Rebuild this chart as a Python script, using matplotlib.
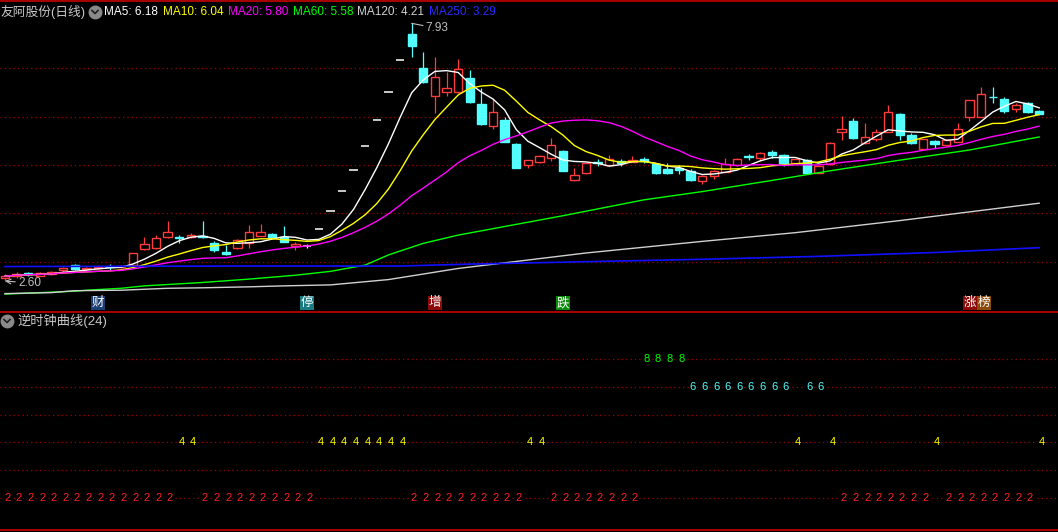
import numpy as np
import pandas as pd
import matplotlib
matplotlib.use('Agg')
import matplotlib.pyplot as plt

plt.rcParams['font.family'] = ['Liberation Sans', 'Noto Sans CJK SC', 'DejaVu Sans']

# daily candles, index 0..89
opens = [2.66, 2.70, 2.76, 2.71, 2.74, 2.82, 2.93, 2.84, 2.87, 2.90,
         2.89, 2.93, 3.26, 3.28, 3.52, 3.51, 3.51, 3.53, 3.39, 3.21,
         3.28, 3.38, 3.54, 3.58, 3.52, 3.33, 3.33, 3.68, 4.05, 4.46,
         4.90, 5.39, 5.93, 6.52, 7.17, 7.71, 7.00, 6.43, 6.50, 6.50,
         6.79, 6.26, 5.81, 5.93, 5.43, 4.99, 5.07, 5.15, 5.29, 4.70,
         4.83, 5.07, 4.99, 5.09, 5.07, 5.12, 5.02, 4.92, 4.93, 4.88,
         4.66, 4.77, 4.86, 5.00, 5.18, 5.14, 5.27, 5.21, 5.05, 5.10,
         4.84, 5.02, 5.69, 5.91, 5.45, 5.53, 5.69, 6.06, 5.62, 5.33,
         5.50, 5.41, 5.48, 5.99, 6.00, 6.41, 6.36, 6.15, 6.28, 6.12]
highs = [2.74, 2.78, 2.79, 2.78, 2.81, 2.90, 2.96, 2.90, 2.93, 2.96,
         2.94, 3.19, 3.52, 3.55, 3.84, 3.56, 3.59, 3.85, 3.42, 3.35,
         3.46, 3.76, 3.78, 3.60, 3.74, 3.41, 3.37, 3.68, 4.05, 4.46,
         4.90, 5.39, 5.93, 6.52, 7.17, 7.93, 7.33, 7.24, 6.93, 7.19,
         6.97, 6.60, 6.36, 5.99, 5.46, 5.11, 5.21, 5.55, 5.30, 4.93,
         5.05, 5.13, 5.21, 5.13, 5.19, 5.16, 5.03, 5.05, 4.99, 4.92,
         4.79, 4.90, 5.15, 5.14, 5.23, 5.26, 5.31, 5.22, 5.13, 5.12,
         4.99, 5.48, 6.01, 5.97, 5.86, 5.75, 6.24, 6.07, 5.66, 5.54,
         5.51, 5.53, 5.86, 6.35, 6.61, 6.61, 6.41, 6.29, 6.30, 6.13]
lows = [2.60, 2.66, 2.71, 2.70, 2.72, 2.79, 2.82, 2.82, 2.85, 2.82,
        2.87, 2.90, 3.25, 3.27, 3.50, 3.38, 3.50, 3.49, 3.21, 3.14,
        3.26, 3.28, 3.53, 3.50, 3.40, 3.25, 3.28, 3.68, 4.05, 4.46,
        4.90, 5.39, 5.93, 6.52, 7.17, 7.23, 6.70, 6.07, 6.43, 6.48,
        6.28, 5.82, 5.74, 5.47, 4.94, 4.94, 5.04, 5.09, 4.87, 4.66,
        4.82, 4.97, 4.98, 4.97, 5.06, 5.05, 4.82, 4.82, 4.82, 4.66,
        4.61, 4.72, 4.85, 4.98, 5.10, 5.09, 5.14, 4.98, 5.04, 4.83,
        4.83, 5.01, 5.52, 5.54, 5.44, 5.50, 5.68, 5.52, 5.44, 5.32,
        5.35, 5.39, 5.47, 5.90, 5.99, 6.28, 6.07, 6.10, 6.08, 6.05]
closes = [2.70, 2.74, 2.75, 2.76, 2.79, 2.86, 2.85, 2.87, 2.89, 2.89,
          2.92, 3.19, 3.37, 3.50, 3.61, 3.50, 3.55, 3.51, 3.24, 3.15,
          3.45, 3.61, 3.61, 3.52, 3.41, 3.37, 3.33, 3.68, 4.05, 4.46,
          4.90, 5.39, 5.93, 6.52, 7.17, 7.46, 6.72, 6.81, 6.60, 6.98,
          6.30, 5.85, 6.09, 5.48, 4.94, 5.10, 5.19, 5.41, 4.88, 4.79,
          5.05, 5.04, 5.12, 5.04, 5.10, 5.08, 4.83, 4.84, 4.90, 4.68,
          4.77, 4.88, 5.02, 5.12, 5.17, 5.24, 5.21, 5.04, 5.12, 4.84,
          4.98, 5.45, 5.74, 5.55, 5.57, 5.68, 6.10, 5.62, 5.45, 5.53,
          5.43, 5.52, 5.74, 6.34, 6.47, 6.40, 6.12, 6.24, 6.09, 6.06]

# long moving averages, sampled from the chart
ma60_idx = [0, 3, 6, 7, 10, 12, 17, 21, 25, 28, 31, 33, 36, 39, 48, 55, 60, 67, 71, 77, 83, 89]
ma60_val = [2.33, 2.36, 2.39, 2.41, 2.45, 2.50, 2.57, 2.64, 2.72, 2.80, 2.93, 3.14, 3.38, 3.55,
            3.95, 4.28, 4.45, 4.72, 4.88, 5.10, 5.31, 5.58]
ma120_idx = [0, 4, 6, 10, 14, 17, 21, 24, 28, 33, 39, 50, 60, 68, 77, 86, 89]
ma120_val = [2.34, 2.36, 2.40, 2.41, 2.45, 2.46, 2.48, 2.50, 2.52, 2.63, 2.86, 3.18, 3.42, 3.60,
             3.85, 4.12, 4.21]
ma250_idx = [0, 20, 34, 40, 50, 60, 70, 80, 89]
ma250_val = [2.90, 2.91, 2.91, 2.95, 3.00, 3.05, 3.11, 3.19, 3.29]

# 逆时钟曲线 state per day
state = [2]*15 + [4]*2 + [2]*10 + [4]*8 + [2]*10 + [4]*2 + [2]*8 + [8]*4 + [6]*9 + [4] + [6]*2 + [4] + [2]*8 + [4] + [2]*8 + [4]

events = ['财', '停', '增', '跌', '涨榜']
event_idx = [8, 26, 37, 48, 84]
event_bg = [['#1d3f78'], ['#1a7c82'], ['#8c0a0a'], ['#0b8a0b'], ['#8c0a0a', '#8a4a0a']]

W, H = 1058, 532
RED = '#ff3c3c'
CYAN = '#54ffff'
GRID = '#a00000'

fig = plt.figure(figsize=(W/100, H/100), dpi=100, facecolor='black')

# ---- main price panel
ax = fig.add_axes([0, 1-312/H, 1, 312/H])
ax.set_facecolor('black')
ax.set_xlim(-0.43, 90.62)
ax.set_ylim(1.9595, 8.4127)
ax.axis('off')
for p in [3, 4, 5, 6, 7]:
    ax.axhline(p, color=GRID, lw=0.9, ls=(0, (1, 2.5)))

df = pd.DataFrame({'o': opens, 'h': highs, 'l': lows, 'c': closes})
x = np.arange(len(df))
for i, r in df.iterrows():
    if r.c > r.o:
        col, face = RED, 'black'
    elif r.c < r.o:
        col, face = CYAN, CYAN
    else:
        col, face = 'white', 'white'
    ax.vlines(i, r.l, r.h, color=col, lw=0.9, zorder=3)
    if r.c == r.o:
        ax.hlines(r.c, i-0.36, i+0.36, color=col, lw=1.1, zorder=4)
    else:
        ax.bar(i, abs(r.c-r.o), bottom=min(r.o, r.c), width=0.72, facecolor=face,
               edgecolor=col, lw=1.0, zorder=4)

cs = pd.Series(closes)
ma5 = cs.rolling(5, min_periods=1).mean()
ma10 = cs.rolling(10, min_periods=1).mean()
ma20 = cs.rolling(20, min_periods=1).mean()
ax.plot(x, ma5, color='white', lw=1.0, zorder=5)
ax.plot(x, ma10, color='#ffff00', lw=1.0, zorder=5)
ax.plot(x, ma20, color='#ff00ff', lw=1.0, zorder=5)
ax.plot(ma60_idx, ma60_val, color='#00ff00', lw=1.0, zorder=5)
ax.plot(ma120_idx, ma120_val, color='#d0d0d0', lw=1.0, zorder=5)
ax.plot(ma250_idx, ma250_val, color='#1010ff', lw=1.2, zorder=5)

ihi = int(np.argmax(highs))
ilo = int(np.argmin(lows))
ax.annotate('%.2f' % highs[ihi], xy=(ihi, highs[ihi]), xytext=(14, -5), textcoords='offset pixels',
            color='#c0c0c0', fontsize=8.5, ha='left', va='center',
            arrowprops=dict(arrowstyle='-', color='#c0c0c0', lw=0.8, shrinkA=0, shrinkB=0))
ax.annotate('%.2f' % lows[ilo], xy=(ilo, lows[ilo]), xytext=(13, -2), textcoords='offset pixels',
            color='#c0c0c0', fontsize=8.5, ha='left', va='center',
            arrowprops=dict(arrowstyle='->', color='#c0c0c0', lw=0.8, shrinkA=0, shrinkB=0))

tr = ax.get_xaxis_transform()
for lab, idx, bgs in zip(events, event_idx, event_bg):
    n = len(lab)
    for k, ch in enumerate(lab):
        cx = idx - 0.35*(n-1) + 1.2*(k - (n-1)/2)
        ax.text(cx, 9/312, ch, transform=tr, color='white', fontsize=9, ha='center', va='center',
                bbox=dict(boxstyle='square,pad=0.08', fc=bgs[k], ec='none'), zorder=6)

# ---- counterclockwise curve panel
sub = fig.add_axes([0, 0, 1, 220/H])
sub.set_facecolor('black')
sub.set_xlim(-0.43, 90.62)
sub.set_ylim(2.765, 10.708)
sub.axis('off')
level = {8: 9, 6: 8, 4: 6, 2: 4}
digit_col = {8: '#00ff00', 6: CYAN, 4: '#ffff00', 2: '#ff2020'}
for lv in [9, 8, 7, 6, 5, 4]:
    sub.axhline(lv, color=GRID, lw=0.9, ls=(0, (1, 2.5)))
for i, s in enumerate(state):
    sub.text(i + 0.2, level[s], str(s), color=digit_col[s], fontsize=8, ha='center', va='center',
             bbox=dict(boxstyle='square,pad=0.1', fc='black', ec='none'))

# ---- overlay for titles and frame lines (pixel coords)
ov = fig.add_axes([0, 0, 1, 1])
ov.set_xlim(0, W)
ov.set_ylim(H, 0)
ov.axis('off')
ov.patch.set_visible(False)
for yy in [1, 312, 530]:
    ov.axhline(yy, color='#c80000', lw=1.2)

ov.text(1, 12, '友阿股份(日线)', color='#c8c8c8', fontsize=9.2, va='center', ha='left')
for cx, cy in [(95, 12), (7, 321)]:
    ov.plot(cx, cy, 'o', ms=9, color='#8a8a8a')
    ov.plot([cx-3, cx, cx+3], [cy-1.5, cy+1.5, cy-1.5], color='#202020', lw=1.2)

heads = [('MA5', ma5.iloc[-1], 'white', 104), ('MA10', ma10.iloc[-1], '#ffff00', 163),
         ('MA20', ma20.iloc[-1], '#ff00ff', 228), ('MA60', ma60_val[-1], '#00ff00', 293),
         ('MA120', ma120_val[-1], '#d0d0d0', 357), ('MA250', ma250_val[-1], '#2a2aff', 429)]
for name, val, col, px in heads:
    ov.text(px, 12, '%s: %.2f' % (name, val), color=col, fontsize=8.5, va='center', ha='left')

ov.text(17, 321, '逆时钟曲线(24)', color='#c8c8c8', fontsize=9.5, va='center', ha='left')

fig.savefig('out.png', dpi=100, facecolor='black')
